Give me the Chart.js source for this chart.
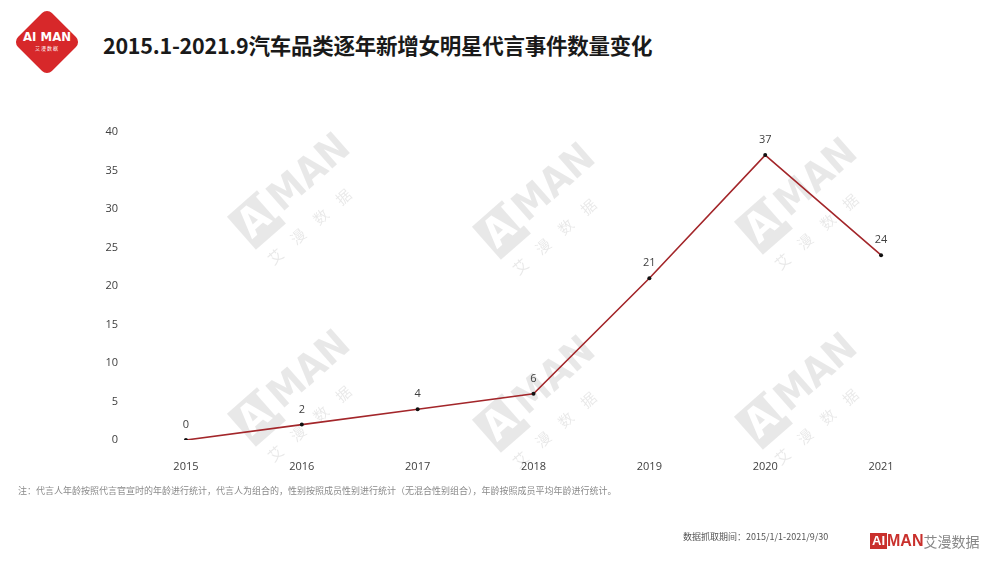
<!DOCTYPE html>
<html>
<head>
<meta charset="utf-8">
<script src="https://cdn.jsdelivr.net/npm/chart.js@4"></script>
<style>
    body { margin: 0; width: 1000px; height: 563px; background: #fff; position: relative; overflow: hidden;
           font-family: "Noto Sans CJK SC", "Noto Sans", sans-serif; }
    #wrap { position: absolute; left: 0; top: 0; width: 1000px; height: 563px; }
    .logo { position: absolute; left: 23px; top: 18px; width: 48px; height: 48px; background: #d7282a;
            border-radius: 7px; transform: rotate(45deg); }
    .logo-text { position: absolute; left: 17px; top: 30px; width: 60px; text-align: center; color: #fff;
                 font: bold 13px "Liberation Sans Narrow", "DejaVu Sans Condensed", sans-serif; line-height: 13px; }
    .logo-sub { position: absolute; left: 17px; top: 45px; width: 60px; text-align: center; color: #fff;
                font-size: 5px; line-height: 6px; letter-spacing: 1px; }
    .title { position: absolute; left: 103px; top: 29px; font-size: 21.5px; font-weight: bold; color: #1a1a1a;
             letter-spacing: -0.25px; }
    .note { position: absolute; left: 18px; top: 484px; font-size: 9px; color: #8a8a8a; }
    .period { position: absolute; left: 683px; top: 530px; font-size: 9px; color: #555; }
    .brand { position: absolute; left: 870px; top: 528px; font-size: 15px; color: #777; white-space: nowrap; }
    .brand .ai { display: inline-block; background: #c9302c; color: #fff; font: bold 13px "Liberation Sans Narrow", sans-serif;
                 padding: 0 2px; line-height: 16px; vertical-align: middle; }
    .brand .man { color: #c9302c; font: bold 16px "Liberation Sans Narrow", sans-serif; vertical-align: middle; }
    .brand .cn { vertical-align: middle; font-size: 14px; color: #888; }
</style>
</head>
<body>
<div class="logo"></div>
<div class="logo-text">AI MAN</div>
<div class="logo-sub">艾漫数据</div>
<div class="title">2015.1-2021.9汽车品类逐年新增女明星代言事件数量变化</div>
<div id="wrap"><canvas id="chart"></canvas></div>
<div class="note">注：代言人年龄按照代言官宣时的年龄进行统计，代言人为组合的，性别按照成员性别进行统计（无混合性别组合），年龄按照成员平均年龄进行统计。</div>
<div class="period">数据抓取期间：2015/1/1-2021/9/30</div>
<div class="brand"><span class="ai">AI</span><span class="man">MAN</span><span class="cn">艾漫数据</span></div>
<script>
const years = ['2015', '2016', '2017', '2018', '2019', '2020', '2021'];
const counts = [0, 2, 4, 6, 21, 37, 24];
const yTicks = [0, 5, 10, 15, 20, 25, 30, 35, 40];

const watermarkSpots = [[285, 195], [530, 205], [792, 200], [285, 392], [530, 398], [792, 395]];

const watermarkPlugin = {
    id: 'watermark',
    beforeDatasetsDraw(chart) {
        const ctx = chart.ctx;
        watermarkSpots.forEach(([x, y]) => {
            ctx.save();
            ctx.translate(x, y);
            ctx.rotate(-0.72);
            ctx.fillStyle = 'rgba(0,0,0,0.09)';
            ctx.fillRect(-58, -22, 40, 44);
            ctx.font = 'bold 40px "Liberation Sans Narrow", "DejaVu Sans Condensed", sans-serif';
            ctx.textBaseline = 'middle';
            ctx.textAlign = 'left';
            ctx.fillStyle = '#fff';
            ctx.fillText('AI', -54, 1);
            ctx.fillStyle = 'rgba(0,0,0,0.09)';
            ctx.fillText('MAN', -14, 1);
            ctx.font = '15px "Noto Sans CJK SC", sans-serif';
            ['艾', '漫', '数', '据'].forEach((c, i) => ctx.fillText(c, -55 + i * 30, 40));
            ctx.restore();
        });
    }
};

const valueLabels = {
    id: 'valueLabels',
    afterDatasetsDraw(chart) {
        const ctx = chart.ctx;
        const meta = chart.getDatasetMeta(0);
        ctx.save();
        ctx.font = '11px "Open Sans", "Noto Sans", sans-serif';
        ctx.fillStyle = '#404040';
        ctx.textAlign = 'center';
        ctx.textBaseline = 'middle';
        meta.data.forEach((pt, i) => {
            ctx.fillText(counts[i], pt.x, pt.y - 15);
        });
        ctx.restore();
    }
};

new Chart(document.getElementById('chart'), {
    type: 'line',
    data: {
        labels: years,
        datasets: [{
            data: counts,
            borderColor: '#a3262a',
            borderWidth: 1.6,
            pointRadius: 2,
            pointBackgroundColor: '#111',
            pointBorderColor: '#111',
            pointBorderWidth: 0,
            tension: 0
        }]
    },
    options: {
        responsive: true,
        maintainAspectRatio: false,
        animation: false,
        layout: { padding: { left: 90, right: 61, top: 132, bottom: 83 } },
        plugins: { legend: { display: false }, tooltip: { enabled: false } },
        scales: {
            x: {
                offset: true,
                grid: { display: false },
                border: { display: false },
                ticks: { color: '#404040', font: { size: 11, family: '"Open Sans", "Noto Sans", sans-serif' }, padding: 12 },
                afterFit: (s) => { s.height = 40; }
            },
            y: {
                min: 0,
                max: 40,
                afterBuildTicks: (s) => { s.ticks = yTicks.map(v => ({ value: v })); },
                grid: { display: false },
                border: { display: false },
                ticks: { color: '#404040', font: { size: 11, family: '"Open Sans", "Noto Sans", sans-serif' }, padding: 2 },
                afterFit: (s) => { s.width = 38; }
            }
        }
    },
    plugins: [watermarkPlugin, valueLabels]
});
</script>
</body>
</html>
